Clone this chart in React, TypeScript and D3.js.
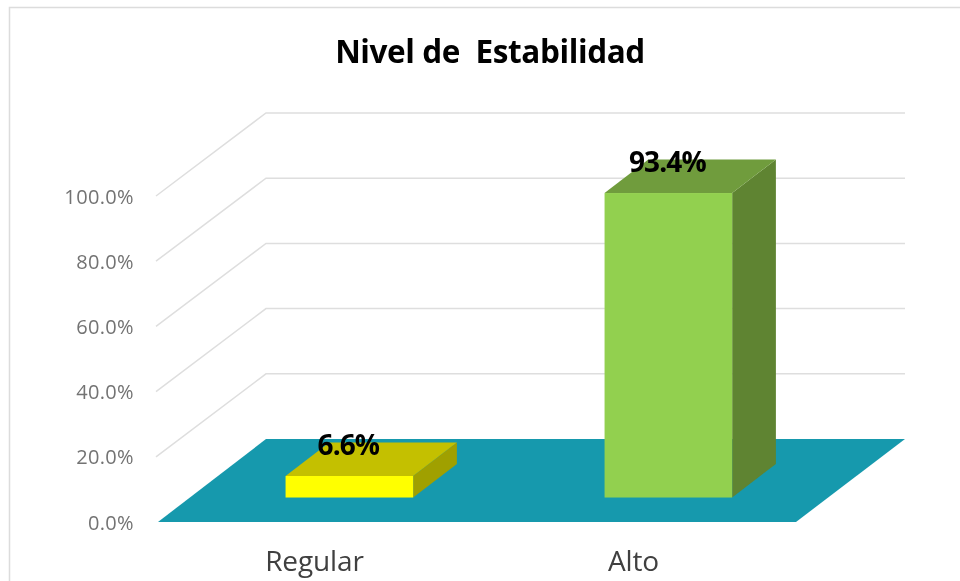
import React from "react";
import * as d3 from "d3";

const title = "Nivel de  Estabilidad";
const categories = ["Regular", "Alto"];
const values = [6.6, 93.4];
const barFront = ["#ffff00", "#92d050"];
const barTop = ["#c4c000", "#6f9c3c"];
const barSide = ["#a0a000", "#5f8431"];
const ticks = [0, 20, 40, 60, 80, 100];

const W = 960;
const H = 581;
const FONT = "'Open Sans', 'Noto Sans', sans-serif";
const depthX = 108;
const depthY = 83;
const barDepthStart = 0.295;
const barDepthEnd = 0.7;

const x = d3.scaleBand<string>().domain(categories).range([158, 796]).paddingInner(0).paddingOuter(0);
const y = d3.scaleLinear().domain([0, 100]).range([522, 196]);
const pts = (p: [number, number][]) => d3.line()(p) + "Z";

export default function App() {
  const bw = x.bandwidth() * 0.4;
  return (
    <svg width={W} height={H} viewBox={`0 0 ${W} ${H}`} style={{ position: "absolute", left: 0, top: 0, background: "#fff" }}>
      <defs>
        <filter id="soft" x="-5%" y="-5%" width="110%" height="110%">
          <feGaussianBlur stdDeviation="0.5" />
        </filter>
      </defs>
      <g filter="url(#soft)">
        <path d={`M9.5,${H}V7.5H${W}`} fill="none" stroke="#dcdcdc" strokeWidth={1.5} />
        {ticks.filter((t) => t > 0).map((t) => (
          <polyline
            key={t}
            points={`${156},${y(t)} ${156 + depthX + 2},${y(t) - depthY} ${905},${y(t) - depthY}`}
            fill="none"
            stroke="#dedede"
            strokeWidth={1.5}
          />
        ))}
        <path
          d={pts([
            [x.range()[0], y(0)],
            [x.range()[1], y(0)],
            [x.range()[1] + depthX + 1, y(0) - depthY],
            [x.range()[0] + depthX, y(0) - depthY],
          ])}
          fill="#1799ad"
        />
        {categories.map((c, i) => {
          const cx = (x(c) as number) + x.bandwidth() / 2 + depthX * barDepthStart;
          const x0 = cx - bw / 2;
          const x1 = cx + bw / 2;
          const base = y(0) - depthY * barDepthStart;
          const top = base - (y(0) - y(values[i]));
          const dx = depthX * (barDepthEnd - barDepthStart);
          const dy = depthY * (barDepthEnd - barDepthStart);
          return (
            <g key={c}>
              <path d={pts([[x1, base], [x1 + dx, base - dy], [x1 + dx, top - dy], [x1, top]])} fill={barSide[i]} />
              <path d={pts([[x0, top], [x1, top], [x1 + dx, top - dy], [x0 + dx, top - dy]])} fill={barTop[i]} />
              <rect x={x0} y={top} width={bw} height={base - top} fill={barFront[i]} />
              <text x={cx - 1} y={top - 21} textAnchor="middle" fontFamily={FONT} fontWeight={700} fontSize={28} fill="#000" letterSpacing={-0.9}>
                {values[i].toFixed(1)}%
              </text>
              <text x={(x(c) as number) + x.bandwidth() / 2 - 3} y={571} textAnchor="middle" fontFamily={FONT} fontSize={28} fill="#404040" letterSpacing={-0.1}>
                {c}
              </text>
            </g>
          );
        })}
        {ticks.map((t) => (
          <text key={t} x={134} y={y(t) + 7.5} textAnchor="end" fontFamily={FONT} fontSize={20} fill="#737373" letterSpacing={0.35}>
            {t.toFixed(1)}%
          </text>
        ))}
        <text x={490} y={63} textAnchor="middle" fontFamily={FONT} fontWeight={700} fontSize={31.5} fill="#000" xmlSpace="preserve" letterSpacing={-0.4}>
          {title}
        </text>
      </g>
    </svg>
  );
}
